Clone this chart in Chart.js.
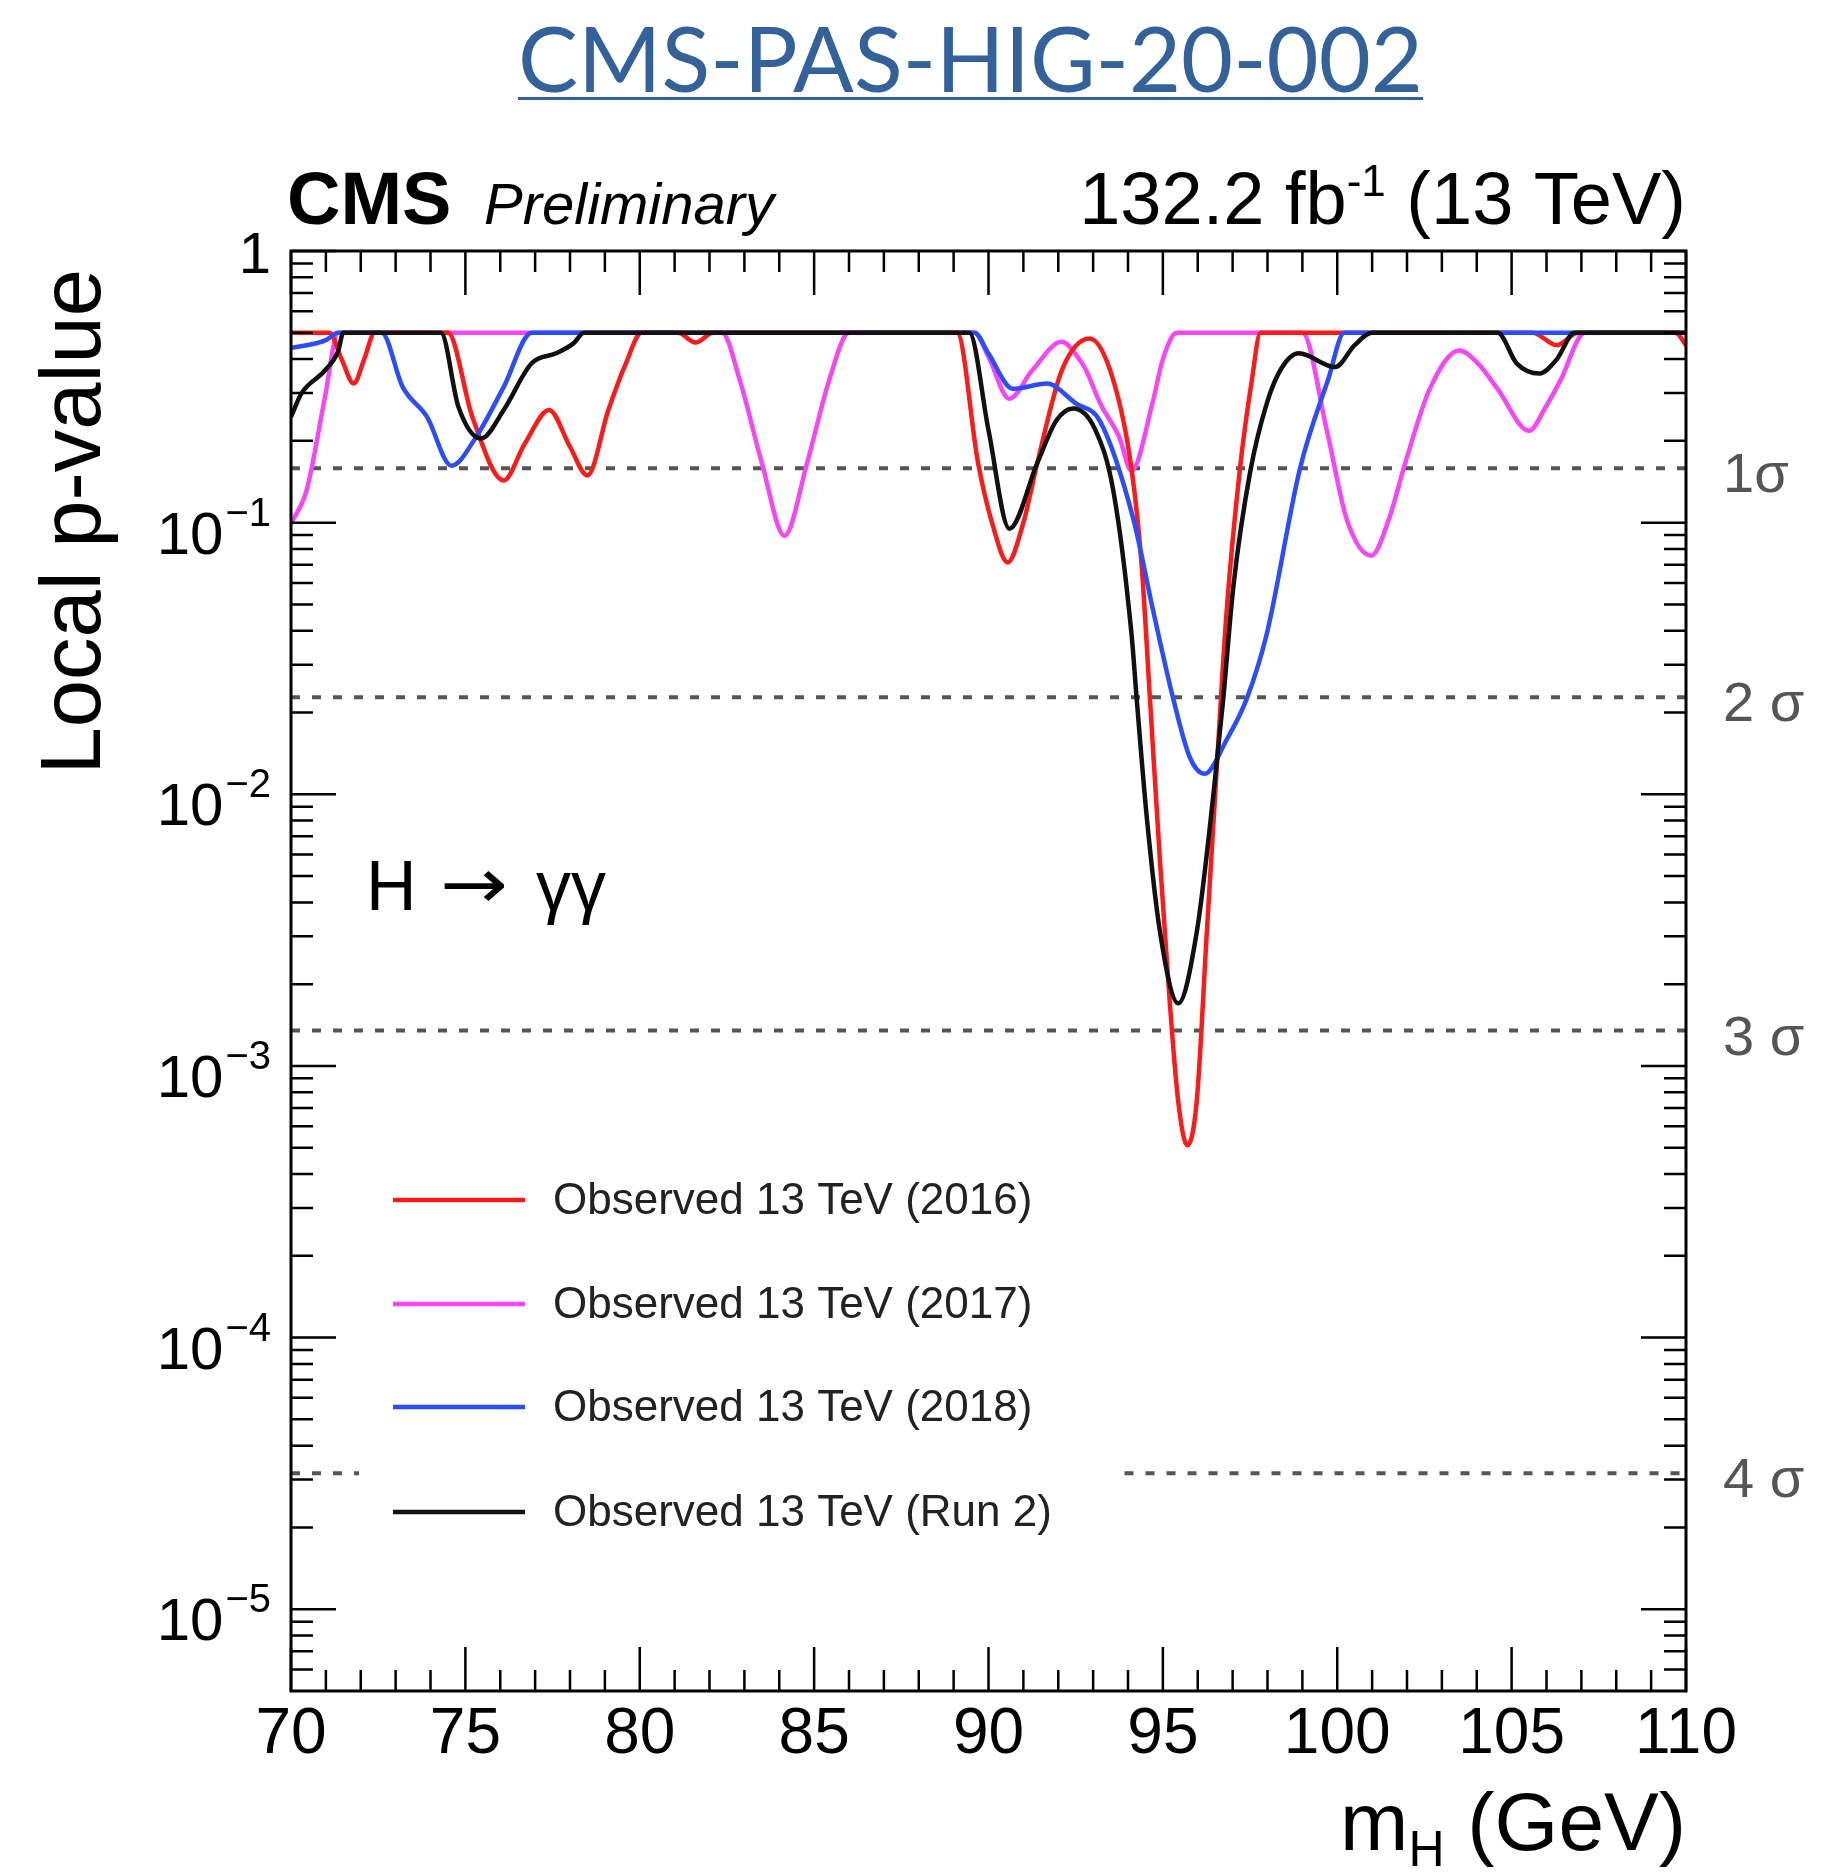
<!DOCTYPE html>
<html>
<head>
<meta charset="utf-8">
<script src="https://cdn.jsdelivr.net/npm/chart.js@4.4.1/dist/chart.umd.min.js"></script>
<style>
  html, body { margin: 0; padding: 0; background: #fff; }
  #wrap { width: 1824px; height: 1875px; }
</style>
</head>
<body>
<div id="wrap"><canvas id="pvalChart" width="1824" height="1875"></canvas></div>
<script>
// m_H (GeV) and local p-value
const mass2016 = [70, 71.1, 71.45, 71.8, 72.1, 72.4, 74.5, 75.2, 76.1, 76.7, 77.4, 78.0, 78.5, 79.1, 79.6, 80.05,
  81.1, 81.6, 82.1, 89.1, 89.7, 90.1, 90.55, 91.0, 91.4, 92.1, 92.9, 93.58, 94.1, 94.39, 94.63, 94.92, 95.2,
  95.44, 95.7, 95.97, 96.26, 96.54, 96.83, 97.21, 97.55, 97.8, 105.6, 106.3, 106.9, 109.7, 110];
const pval2016 = [0.5, 0.5, 0.4, 0.325, 0.4, 0.5, 0.5, 0.245, 0.143, 0.195, 0.26, 0.19, 0.149, 0.26, 0.385, 0.5,
  0.5, 0.46, 0.5, 0.5, 0.166, 0.1, 0.0714, 0.1, 0.166, 0.363, 0.476, 0.334, 0.158, 0.07, 0.0224, 0.0056, 0.0017,
  7.4e-4, 5.1e-4, 7.4e-4, 0.0031, 0.0122, 0.0475, 0.158, 0.334, 0.5, 0.5, 0.45, 0.5, 0.5, 0.45];

const mass2017 = [70, 70.45, 70.97, 71.35, 82.36, 82.87, 83.5, 84.15, 84.8, 85.43, 86.0, 89.6, 90.0, 90.6, 91.25,
  92.1, 92.6, 92.8, 93.2, 93.75, 94.1, 94.7, 95.0, 95.4, 99.0, 99.7, 100.28, 100.98, 101.47, 101.95, 102.65, 103.5,
  104.04, 104.6, 105.5, 105.98, 106.4, 107.1, 110];
const pval2017 = [0.099, 0.132, 0.288, 0.5, 0.5, 0.334, 0.166, 0.0895, 0.166, 0.334, 0.5, 0.5, 0.407, 0.286, 0.363,
  0.463, 0.4, 0.363, 0.275, 0.206, 0.155, 0.275, 0.4, 0.5, 0.5, 0.219, 0.102, 0.0756, 0.102, 0.166, 0.31, 0.43,
  0.385, 0.31, 0.218, 0.267, 0.334, 0.5, 0.5];

const mass2018 = [70, 70.45, 71.0, 71.35, 72.6, 73.2, 73.9, 74.6, 75.3, 76.1, 76.9, 89.6, 90.0, 90.7, 91.67, 92.5,
  93.2, 94.15, 94.72, 95.3, 95.78, 96.2, 96.83, 97.4, 97.98, 98.93, 99.75, 100.2, 110];
const pval2018 = [0.44, 0.45, 0.47, 0.5, 0.5, 0.316, 0.245, 0.162, 0.206, 0.316, 0.5, 0.5, 0.419, 0.311, 0.325, 0.275,
  0.236, 0.1035, 0.0475, 0.0224, 0.0136, 0.0119, 0.0159, 0.0224, 0.039, 0.158, 0.34, 0.5, 0.5];

const massRun2 = [70, 70.3, 70.97, 71.35, 71.5, 74.3, 74.8, 75.45, 76.1, 76.9, 77.6, 78.1, 78.4, 89.45, 90.0, 90.6,
  91.4, 91.95, 92.43, 93.06, 93.58, 94.1, 94.25, 94.54, 94.92, 95.44, 95.97, 96.45, 96.73, 97.02, 97.5, 97.98,
  98.4, 98.9, 99.94, 100.5, 101.0, 104.6, 105.15, 105.8, 106.3, 106.8, 110];
const pvalRun2 = [0.245, 0.299, 0.363, 0.427, 0.5, 0.5, 0.267, 0.204, 0.26, 0.386, 0.42, 0.457, 0.5, 0.5, 0.219, 0.095,
  0.166, 0.238, 0.263, 0.22, 0.131, 0.039, 0.0224, 0.0082, 0.0031, 0.0017, 0.0031, 0.01, 0.0224, 0.058, 0.153, 0.275,
  0.37, 0.42, 0.374, 0.45, 0.5, 0.5, 0.385, 0.354, 0.4, 0.5, 0.5];

// significance reference lines (one-sided p for 1..4 sigma)
const sigmaP = [0.1587, 0.02275, 0.00135, 3.167e-5];
const sigmaLabels = ["1\u03c3", "2 \u03c3", "3 \u03c3", "4 \u03c3"];
// 4 sigma line is hidden behind the legend between these masses
const sigma4Spans = [[70, 71.95], [93.9, 110]];

const yDecadeExp = [0, -1, -2, -3, -4, -5];
const legendLabels = ["Observed 13 TeV (2016)", "Observed 13 TeV (2017)", "Observed 13 TeV (2018)", "Observed 13 TeV (Run 2)"];
const legendColors = ["#ff1a1a", "#f845f8", "#2a4dff", "#111111"];

const FONT = "'Liberation Sans', Arial, Helvetica, sans-serif";

function pts(ms, ps) {
  return ms.map((m, i) => ({ x: m, y: ps[i] }));
}

function curve(label, color, ms, ps) {
  return {
    label: label, data: pts(ms, ps), borderColor: color, borderWidth: 4.5,
    pointRadius: 0, fill: false, cubicInterpolationMode: "monotone"
  };
}

const sigmaSets = sigmaP.map((p, i) => {
  let data;
  if (i === 3) {
    data = [{ x: sigma4Spans[0][0], y: p }, { x: sigma4Spans[0][1], y: p }, { x: 80, y: null },
            { x: sigma4Spans[1][0], y: p }, { x: sigma4Spans[1][1], y: p }];
  } else {
    data = [{ x: 70, y: p }, { x: 110, y: p }];
  }
  return {
    label: sigmaLabels[i], data: data, borderColor: "#555", borderWidth: 4,
    borderDash: [9, 12], pointRadius: 0, fill: false, tension: 0, spanGaps: false
  };
});

function supText(ctx, base, sup, xRight, baseY, bigSize, smallSize, rise) {
  // draws base + superscript, right aligned at xRight
  ctx.font = smallSize + "px " + FONT;
  const sw = ctx.measureText(sup).width;
  ctx.font = bigSize + "px " + FONT;
  const bw = ctx.measureText(base).width;
  ctx.textAlign = "left";
  ctx.fillText(base, xRight - sw - bw - 2, baseY);
  ctx.font = smallSize + "px " + FONT;
  ctx.fillText(sup, xRight - sw, baseY - rise);
}

const decorations = {
  id: "decorations",
  afterDatasetsDraw(chart) {
    const { ctx, chartArea: a, scales: { x, y } } = chart;
    ctx.save();

    // ticks, inward on all four sides
    ctx.strokeStyle = "#000";
    ctx.lineWidth = 2.5;
    ctx.beginPath();
    for (let m = x.min; m <= x.max; m++) {
      const px = x.getPixelForValue(m);
      const len = m % 5 === 0 ? 44 : 21;
      ctx.moveTo(px, a.bottom); ctx.lineTo(px, a.bottom - len);
      ctx.moveTo(px, a.top); ctx.lineTo(px, a.top + len);
    }
    for (let d = -6; d <= 0; d++) {
      for (let k = 1; k <= 9; k++) {
        const v = k * Math.pow(10, d);
        if (v < y.min || v > y.max) continue;
        const py = y.getPixelForValue(v);
        const len = k === 1 ? 45 : 22;
        ctx.moveTo(a.left, py); ctx.lineTo(a.left + len, py);
        ctx.moveTo(a.right, py); ctx.lineTo(a.right - len, py);
      }
    }
    ctx.stroke();
    ctx.lineWidth = 3;
    ctx.strokeRect(a.left, a.top, a.right - a.left, a.bottom - a.top);

    // y tick labels
    ctx.fillStyle = "#000";
    ctx.textBaseline = "alphabetic";
    yDecadeExp.forEach(e => {
      const py = y.getPixelForValue(Math.pow(10, e));
      if (e === 0) {
        ctx.font = "58px " + FONT;
        ctx.textAlign = "right";
        ctx.fillText("1", a.left - 20, py + 22);
      } else {
        supText(ctx, "10", "\u2212" + (-e), a.left - 20, py + 31, 60, 40, 28);
      }
    });

    // axis titles
    ctx.save();
    ctx.translate(100, a.top + 18);
    ctx.rotate(-Math.PI / 2);
    ctx.font = "85px " + FONT;
    ctx.textAlign = "right";
    ctx.fillText("Local p-value", 0, 0);
    ctx.restore();

    ctx.textAlign = "left";
    ctx.font = "82px " + FONT;
    const tail = " (GeV)";
    const tailW = ctx.measureText(tail).width;
    ctx.font = "50px " + FONT;
    const hW = ctx.measureText("H").width;
    ctx.font = "82px " + FONT;
    const mW = ctx.measureText("m").width;
    const xr = a.right;
    ctx.fillText(tail, xr - tailW, 1850);
    ctx.fillText("m", xr - tailW - hW - mW, 1850);
    ctx.font = "50px " + FONT;
    ctx.fillText("H", xr - tailW - hW, 1866);

    // header
    ctx.font = "bold 74px " + FONT;
    ctx.fillText("CMS", 287, 224);
    ctx.font = "italic 58px " + FONT;
    ctx.fillText("Preliminary", 484, 224);
    ctx.font = "74px " + FONT;
    const lumiTail = " (13 TeV)";
    const ltW = ctx.measureText(lumiTail).width;
    ctx.font = "44px " + FONT;
    const supW = ctx.measureText("-1").width;
    ctx.font = "74px " + FONT;
    const lhW = ctx.measureText("132.2 fb").width;
    ctx.fillText(lumiTail, xr - ltW, 224);
    ctx.fillText("132.2 fb", xr - ltW - supW - lhW, 224);
    ctx.font = "44px " + FONT;
    ctx.fillText("-1", xr - ltW - supW, 196);

    // document title
    ctx.font = "92px Lato, 'Open Sans', sans-serif";
    ctx.fillStyle = "#33619c";
    const title = "CMS-PAS-HIG-20-002";
    const tW = ctx.measureText(title).width;
    ctx.save();
    ctx.translate(518, 92);
    ctx.scale(905 / tW, 1);
    ctx.fillText(title, 0, 0);
    ctx.restore();
    ctx.fillRect(518, 97, 905, 3);

    // sigma labels
    ctx.fillStyle = "#555";
    ctx.font = "56px " + FONT;
    sigmaP.forEach((p, i) => {
      ctx.fillText(sigmaLabels[i], a.right + 37, y.getPixelForValue(p) + 24);
    });

    // process label
    ctx.fillStyle = "#000";
    ctx.font = "70px " + FONT;
    ctx.fillText("H", 366, 910);
    ctx.fillText("\u03b3\u03b3", 536, 910);
    ctx.font = "70px 'DejaVu Sans', sans-serif";
    const arW = ctx.measureText("\u2192").width;
    ctx.save();
    ctx.translate(440, 908);
    ctx.scale(68 / arW, 1);
    ctx.fillText("\u2192", 0, 0);
    ctx.restore();

    // legend
    const rows = [1200, 1304, 1407, 1512];
    ctx.font = "44px " + FONT;
    ctx.textBaseline = "middle";
    legendLabels.forEach((lab, i) => {
      ctx.strokeStyle = legendColors[i];
      ctx.lineWidth = 4.5;
      ctx.beginPath();
      ctx.moveTo(393, rows[i]); ctx.lineTo(525, rows[i]);
      ctx.stroke();
      ctx.fillStyle = "#222";
      ctx.fillText(lab, 553, rows[i] + 2);
    });

    ctx.restore();
  }
};

const pvalChart = new Chart(document.getElementById("pvalChart"), {
  type: "line",
  data: {
    datasets: [
      curve(legendLabels[3], legendColors[3], massRun2, pvalRun2),
      curve(legendLabels[2], legendColors[2], mass2018, pval2018),
      curve(legendLabels[0], legendColors[0], mass2016, pval2016),
      curve(legendLabels[1], legendColors[1], mass2017, pval2017),
      ...sigmaSets
    ]
  },
  options: {
    responsive: false,
    animation: false,
    layout: { padding: { left: 0, right: 138, top: 251, bottom: 84 } },
    plugins: { legend: { display: false }, tooltip: { enabled: false } },
    scales: {
      x: {
        type: "linear", min: 70, max: 110,
        grid: { display: false, drawTicks: false },
        border: { display: false },
        ticks: { stepSize: 5, maxRotation: 0, padding: 6, color: "#000", font: { size: 64, family: FONT } },
        afterFit: s => { s.height = 100; }
      },
      y: {
        type: "logarithmic", min: 5e-6, max: 1,
        grid: { display: false, drawTicks: false },
        border: { display: false },
        ticks: { display: false },
        afterFit: s => { s.width = 291; }
      }
    }
  },
  plugins: [decorations]
});
</script>
</body>
</html>
